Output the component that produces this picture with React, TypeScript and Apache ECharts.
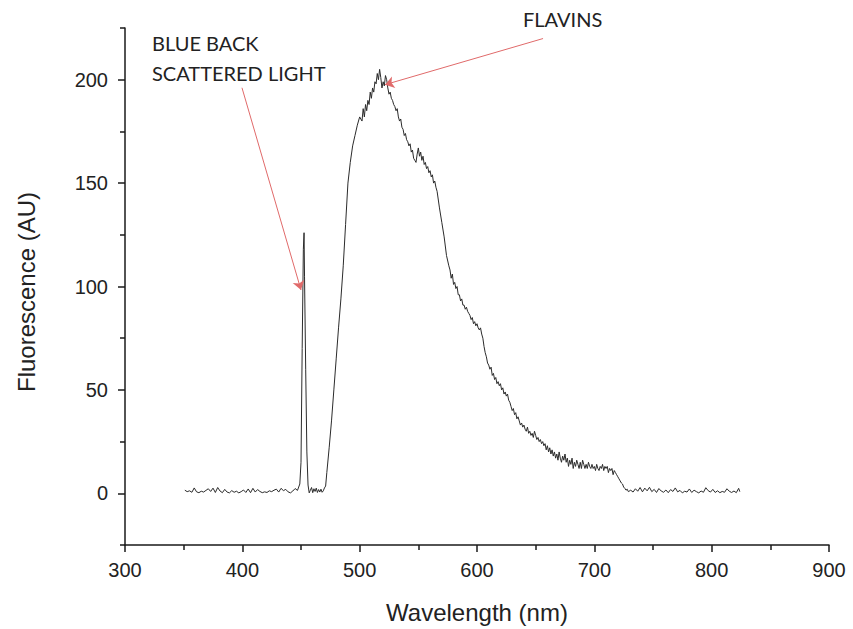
import React, { useEffect, useRef } from "react";
import * as echarts from "echarts";

// Baseline before the scattered-light spike (nm, AU)
const baselineLeft: number[][] = [
  [351, 1.5], [353, 0.8], [355, 1.2], [357, 0.5], [359, 2.6], [361, 0.7], [363, 0.3], [365, 1.0],
  [367, 0.6], [369, 1.4], [371, 2.2], [373, 0.9], [375, 2.5], [377, 0.4], [379, 2.8], [381, 1.1],
  [383, 0.3], [385, 1.9], [387, 0.6], [389, 0.2], [391, 1.3], [393, 0.5], [395, 1.0], [397, 0.2],
  [399, 0.8], [401, 1.6], [403, 0.4], [405, 2.1], [407, 0.3], [409, 2.4], [411, 0.6], [413, 1.8],
  [415, 0.9], [417, 0.3], [419, 0.7], [421, 0.4], [423, 1.2], [425, 0.8], [427, 1.5], [429, 2.0],
  [431, 0.6], [433, 2.4], [435, 1.3], [437, 1.9], [439, 0.7], [441, 0.2], [443, 1.1], [445, 2.3],
  [447, 1.4], [449, 4.5],
];

// Blue back-scattered light spike
const spike: number[][] = [
  [450, 15], [451, 70], [452, 118], [452.6, 126], [453, 105], [454, 60], [455, 20], [456, 4], [457, 0.2],
];

// Gap between spike and flavin band
const gap: number[][] = [
  [458, 1.5], [459, 2.8], [460, 0.3], [461, 2.2], [462, 0.9], [463, 2.5], [464, 0.4], [465, 1.8],
  [466, 0.6], [467, 2.0], [468, 0.5], [469, 1.2], [470, 2.6], [471, 3.5],
];

// Flavin fluorescence band
const flavinBand: number[][] = [
  [472, 10], [474, 22], [476, 35], [478, 50], [480, 65], [482, 80], [484, 94], [486, 110], [488, 130],
  [490, 150], [492, 160], [494, 168], [496, 173], [498, 178], [500, 182], [502, 180], [503, 186],
  [504, 182], [505, 188], [506, 185], [507, 190], [508, 188], [509, 194], [510, 191], [511, 196],
  [512, 194], [513, 199], [514, 198], [515, 203], [516, 200], [517, 205], [518, 201], [519, 196],
  [520, 199], [521, 197], [522, 202], [523, 200], [524, 196], [525, 193], [526, 194], [527, 191],
  [528, 190], [529, 188], [530, 187], [531, 185], [532, 186], [533, 182], [534, 180], [535, 181],
  [536, 177], [537, 176], [538, 173], [539, 174], [540, 171], [541, 170], [542, 168], [543, 169],
  [544, 165], [545, 166], [546, 162], [547, 161], [548, 160], [549, 164], [550, 167], [551, 163],
  [552, 165], [553, 161], [554, 163], [555, 159], [556, 160], [557, 157], [558, 158], [559, 155],
  [560, 156], [561, 153], [562, 154], [563, 150], [564, 151], [565, 148], [566, 146], [568, 138],
  [570, 131], [572, 124], [574, 115], [576, 110], [577, 108], [578, 104], [579, 106], [580, 101],
  [581, 102], [582, 99], [583, 100], [584, 96], [585, 96], [586, 93], [587, 94], [588, 91],
  [589, 91], [590, 89], [591, 90], [592, 88], [593, 87], [594, 86], [595, 84], [596, 85],
  [597, 82], [598, 83], [599, 81], [600, 82], [601, 80], [602, 79], [603, 80], [604, 77],
  [605, 75], [606, 71], [607, 68], [608, 66], [609, 63], [610, 62], [611, 60], [612, 61],
  [613, 57], [614, 58], [615, 55], [616, 56], [617, 53], [618, 54], [619, 52], [620, 53],
  [621, 50], [622, 51], [623, 48], [624, 49], [625, 47], [626, 48], [627, 45], [628, 44],
  [629, 42], [630, 40], [631, 41], [632, 38], [633, 39], [634, 36], [635, 37], [636, 35],
  [637, 33], [638, 34], [639, 32], [640, 33], [641, 31], [642, 30], [643, 32], [644, 29],
  [645, 30], [646, 28], [647, 29], [648, 27], [649, 30], [650, 28], [651, 26], [652, 27],
  [653, 25], [654, 26], [655, 24], [656, 25], [657, 23], [658, 24], [659, 21], [660, 23],
  [661, 20], [662, 22], [663, 19], [664, 21], [665, 18], [666, 20], [667, 17], [668, 19],
  [669, 16], [670, 20], [671, 17], [672, 15], [673, 18], [674, 16], [675, 19], [676, 15],
  [677, 17], [678, 13], [679, 16], [680, 14], [681, 17], [682, 12], [683, 15], [684, 13],
  [685, 16], [686, 14], [687, 12], [688, 15], [689, 12], [690, 16], [691, 14], [692, 12],
  [693, 14], [694, 12], [695, 15], [696, 13], [697, 12], [698, 14], [699, 12], [700, 13],
  [701, 11], [702, 14], [703, 12], [704, 11], [705, 13], [706, 12], [707, 14], [708, 11],
  [709, 13], [710, 12], [711, 13], [712, 10], [713, 12], [714, 11], [715, 12], [716, 9],
  [717, 11], [718, 10], [719, 9], [720, 8], [721, 7], [722, 6], [723, 5], [724, 4.5],
  [725, 3], [726, 2.4], [727, 1.5], [728, 2.0], [729, 0.8],
];

// Baseline after the band
const baselineRight: number[][] = [
  [731, 1.5], [733, 0.6], [735, 2.2], [737, 1.0], [739, 2.8], [741, 0.7], [743, 2.5], [745, 1.2],
  [747, 2.9], [749, 0.8], [751, 1.9], [753, 0.4], [755, 2.3], [757, 1.1], [759, 0.5], [761, 1.6],
  [763, 0.3], [765, 1.8], [767, 0.9], [769, 2.6], [771, 0.7], [773, 1.4], [775, 0.2], [777, 1.0],
  [779, 0.6], [781, 2.1], [783, 0.4], [785, 1.5], [787, 0.8], [789, 0.2], [791, 1.1], [793, 0.5],
  [795, 2.7], [797, 1.3], [799, 0.6], [801, 1.9], [803, 0.4], [805, 1.2], [807, 0.3], [809, 0.9],
  [811, 0.5], [813, 2.2], [815, 1.0], [817, 0.4], [819, 1.1], [821, 0.3], [823, 2.4], [824, 0.8],
];

const yMajorTicks = [0, 50, 100, 150, 200];
const yMinorTicks = [-25, 25, 75, 125, 175, 225];

// Annotation arrows: [start, tip] in data coordinates
const blueArrow = [[399.7, 196.1], [450, 98.3]];
const flavinArrow = [[656.3, 219.9], [521.6, 197.6]];

const spectrum = [...baselineLeft, ...spike, ...gap, ...flavinBand, ...baselineRight];

const AXIS_FONT = "'Liberation Sans', Arial, sans-serif";
const NOTE_FONT = "Lato, 'Open Sans', sans-serif";

export default function App() {
  const ref = useRef<HTMLDivElement>(null);
  useEffect(() => {
    if (!ref.current) return;
    const chart = echarts.init(ref.current, undefined, { renderer: "svg" });
    const arrowLine = (pts: number[][]) => [
      { coord: pts[0], symbol: "none" },
      { coord: pts[1], symbol: "arrow" },
    ];
    chart.setOption({
      animation: false,
      backgroundColor: "#ffffff",
      grid: { left: 125, right: 24, top: 28, bottom: 84, containLabel: false },
      xAxis: {
        type: "value",
        min: 300,
        max: 900,
        interval: 100,
        axisLine: { show: true, onZero: false, lineStyle: { color: "#1a1a1a", width: 1.5 } },
        axisTick: { show: true, inside: false, length: 7, lineStyle: { color: "#1a1a1a", width: 1.5 } },
        minorTick: { show: true, splitNumber: 2, length: 5, lineStyle: { color: "#1a1a1a", width: 1.5 } },
        axisLabel: { color: "#222", fontSize: 20, fontFamily: AXIS_FONT, margin: 15 },
        splitLine: { show: false },
      },
      yAxis: [
        {
          type: "value",
          min: -25,
          max: 225,
          axisLine: { show: true, onZero: false, lineStyle: { color: "#1a1a1a", width: 1.5 } },
          axisTick: { show: true, length: 7, customValues: yMajorTicks, lineStyle: { color: "#1a1a1a", width: 1.5 } },
          axisLabel: { color: "#222", fontSize: 20, fontFamily: AXIS_FONT, margin: 17, customValues: yMajorTicks },
          splitLine: { show: false },
        },
        {
          type: "value",
          min: -25,
          max: 225,
          position: "left",
          axisLine: { show: false, onZero: false },
          axisTick: { show: true, length: 5, customValues: yMinorTicks, lineStyle: { color: "#1a1a1a", width: 1.5 } },
          axisLabel: { show: false },
          splitLine: { show: false },
        },
      ],
      series: [
        {
          type: "line",
          data: spectrum,
          xAxisIndex: 0,
          yAxisIndex: 0,
          showSymbol: false,
          lineStyle: { color: "#2b2b2b", width: 1 },
          silent: true,
          markLine: {
            silent: true,
            animation: false,
            symbolSize: 9,
            label: { show: false },
            lineStyle: { color: "#e06a6a", width: 1, type: "solid" },
            itemStyle: { color: "#e03030" },
            data: [arrowLine(blueArrow), arrowLine(flavinArrow)],
          },
        },
      ],
      graphic: [
        {
          type: "text",
          left: 152,
          top: 28,
          style: {
            text: "BLUE BACK\nSCATTERED LIGHT",
            font: `20px ${NOTE_FONT}`,
            fill: "#222",
            lineHeight: 30,
          },
        },
        {
          type: "text",
          left: 523,
          top: 9,
          style: { text: "FLAVINS", font: `20px ${NOTE_FONT}`, fill: "#222" },
        },
        {
          type: "text",
          x: 477,
          y: 612,
          style: {
            text: "Wavelength (nm)",
            font: `24px ${AXIS_FONT}`,
            fill: "#222",
            align: "center",
            verticalAlign: "middle",
          },
        },
        {
          type: "text",
          x: 26,
          y: 292,
          rotation: Math.PI / 2,
          style: {
            text: "Fluorescence (AU)",
            font: `24px ${AXIS_FONT}`,
            fill: "#222",
            align: "center",
            verticalAlign: "middle",
          },
        },
      ],
    });
    return () => chart.dispose();
  }, []);
  return (
    <div
      ref={ref}
      style={{ position: "absolute", left: 0, top: 0, width: 853, height: 629, background: "#fff" }}
    />
  );
}
